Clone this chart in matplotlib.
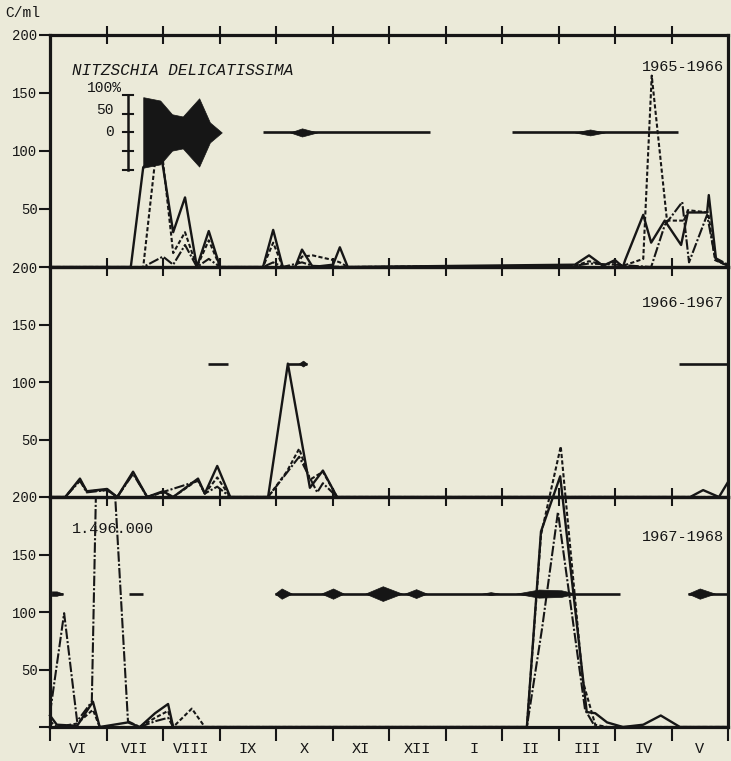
import numpy as np
import matplotlib
matplotlib.use('Agg')
import matplotlib.pyplot as plt

PAPER = '#ebead9'
INK = '#161616'
FONT = 'Liberation Mono'

MONTHS = ['VI', 'VII', 'VIII', 'IX', 'X', 'XI', 'XII', 'I', 'II', 'III', 'IV', 'V']
YEARS = ['1965-1966', '1966-1967', '1967-1968']

# x = months counted from 1 June, y = C/ml
# 1965-1966
top_solid_x = [0, 1.43, 1.65, 1.96, 2.18, 2.39, 2.60, 2.81, 3.01, 3.77, 3.95, 4.12, 4.34, 4.46, 4.65,
               5.01, 5.13, 5.27, 9.29, 9.54, 9.79, 10.00, 10.14, 10.18, 10.50, 10.64, 10.88, 11.17,
               11.29, 11.63, 11.66, 11.79, 12.0]
top_solid_y = [0, 0, 86, 99, 30, 60, 0, 31, 0, 0, 32, 0, 0, 15, 0,
               2, 17, 0, 2, 10, 1, 6, 0, 6, 45, 21, 40, 19,
               47, 47, 62, 6, 1]
top_dash_x = [0, 1.65, 1.93, 2.18, 2.39, 2.60, 2.81, 3.01, 3.77, 3.95, 4.12, 4.34, 4.46, 4.65, 5.01,
              5.13, 5.27, 9.29, 9.54, 9.79, 10.00, 10.14, 10.50, 10.65, 10.92, 11.22, 11.29, 11.65,
              11.77, 12.0]
top_dash_y = [0, 0, 122, 12, 30, 0, 23, 0, 0, 21, 0, 0, 9, 10, 6,
              4, 0, 1, 5, 2, 4, 1, 7, 165, 40, 40, 49, 47,
              6, 1]
top_dot_x = [0, 1.65, 2.00, 2.18, 2.39, 2.60, 2.81, 3.01, 3.77, 3.95, 4.12, 4.46, 4.65, 5.27, 9.29,
             9.54, 10.00, 10.64, 10.88, 11.19, 11.31, 11.63, 11.77, 12.0]
top_dot_y = [0, 0, 9, 2, 19, 0, 7, 0, 0, 4, 0, 4, 1, 0, 1,
             3, 2, 0, 36, 56, 4, 45, 8, 2]

# 1966-1967
mid_solid_x = [0, 0.27, 0.53, 0.65, 1.01, 1.19, 1.47, 1.72, 2.00, 2.18, 2.62, 2.74, 2.96, 3.19, 3.86,
               4.21, 4.60, 4.83, 5.08, 11.33, 11.56, 11.84, 12.0]
mid_solid_y = [0, 0, 16, 5, 7, 0, 22, 0, 5, 0, 16, 3, 27, 0, 0,
               116, 8, 23, 0, 0, 6, 0, 13]
mid_dash_x = [0, 0.27, 0.53, 0.65, 1.01, 1.19, 1.47, 1.72, 2.00, 2.18, 2.62, 2.74, 2.96, 3.19, 3.86,
              4.19, 4.41, 4.60, 4.83, 5.08, 12.0]
mid_dash_y = [0, 0, 15, 5, 6, 0, 21, 0, 4, 0, 15, 3, 17, 0, 0,
              22, 42, 15, 22, 0, 0]
mid_dot_x = [0, 0.27, 0.53, 0.65, 1.01, 1.19, 1.47, 1.72, 2.62, 2.74, 2.96, 3.19, 3.86, 4.19, 4.41,
             4.73, 4.83, 5.08, 12.0]
mid_dot_y = [0, 0, 14, 4, 6, 0, 20, 0, 14, 3, 9, 0, 0, 21, 35,
             4, 12, 0, 0]

# 1967-1968 (dash-dot peak in VI-VII is 1.496.000, cut at the frame)
bot_solid_x = [0, 0.12, 0.48, 0.76, 0.88, 1.38, 1.59, 1.86, 2.09, 2.18, 2.51, 8.44, 8.69, 9.03, 9.50,
               9.65, 9.86, 10.14, 10.50, 10.81, 11.15, 12.0]
bot_solid_y = [10, 2, 1, 22, 0, 4, 0, 12, 20, 0, 0, 0, 170, 218, 13,
               12, 4, 0, 2, 10, 0, 0]
bot_dash_x = [0, 0.12, 0.48, 0.76, 0.88, 1.59, 1.86, 2.09, 2.18, 2.51, 2.74, 8.44, 8.69, 9.04, 9.43,
              9.65, 9.86, 12.0]
bot_dash_y = [5, 0, 3, 15, 0, 0, 8, 14, 0, 16, 0, 0, 167, 244, 40,
              2, 0, 0]
bot_dot_x = [0, 0.25, 0.48, 0.74, 0.90, 1.38, 1.59, 1.86, 2.09, 2.18, 8.44, 8.71, 8.99, 9.47, 9.65,
             12.0]
bot_dot_y = [12, 99, 5, 22, 420, 5, 0, 5, 8, 0, 0, 86, 187, 15, 0,
             0]

# kite diagrams: share of the species (%) around a fixed level
top_kite_lines = [(3.77, 6.73), (8.18, 11.12)]
top_kites = [([1.65, 1.65, 1.95, 2.16, 2.35, 2.64, 2.83, 3.04], [0, 95, 86, 49, 43, 92, 27, 0]),
             ([4.25, 4.46, 4.73], [0, 11, 0]),
             ([9.29, 9.56, 9.82], [0, 8, 0])]
mid_kite_lines = [(2.80, 3.15), (4.21, 4.55), (11.13, 12.0)]
mid_kites = [([4.40, 4.48, 4.55], [0, 8, 0])]
bot_kite_lines = [(0.03, 0.23), (1.40, 1.65), (3.98, 10.09), (11.29, 12.0)]
bot_kites = [([0.03, 0.12, 0.23], [6, 6, 0]),
             ([3.98, 4.10, 4.28], [0, 14, 0]),
             ([4.80, 5.01, 5.20], [0, 14, 0]),
             ([5.58, 5.89, 6.23], [0, 20, 0]),
             ([6.28, 6.48, 6.67], [0, 12, 0]),
             ([7.65, 7.80, 7.95], [0, 4, 0]),
             ([8.25, 8.65, 9.05, 9.30], [0, 11, 9, 0]),
             ([11.29, 11.50, 11.77], [0, 14, 0])]

KITE_LEVEL = 116
KITE_SCALE = 0.32  # C/ml of half width per 1 %

plt.rcParams['font.family'] = [FONT, 'DejaVu Sans Mono']

fig = plt.figure(figsize=(7.31, 7.61), dpi=100, facecolor=PAPER)
W, H = 731, 761
left, right = 50 / W, 728 / W
edges = [35, 267, 497, 727]
axes = []
for i in range(3):
    ax = fig.add_axes([left, 1 - edges[i + 1] / H, right - left, (edges[i + 1] - edges[i]) / H])
    ax.set_facecolor('none')
    axes.append(ax)

panels = [
    (top_solid_x, top_solid_y, top_dash_x, top_dash_y, top_dot_x, top_dot_y, top_kite_lines, top_kites),
    (mid_solid_x, mid_solid_y, mid_dash_x, mid_dash_y, mid_dot_x, mid_dot_y, mid_kite_lines, mid_kites),
    (bot_solid_x, bot_solid_y, bot_dash_x, bot_dash_y, bot_dot_x, bot_dot_y, bot_kite_lines, bot_kites),
]
year_y = [172, 169, 165]

for i, (ax, p) in enumerate(zip(axes, panels)):
    sx, sy, dx, dy, ox, oy, klines, kites = p
    spill = (i == 2)  # the II-III peak runs up into the panel above
    ax.plot(sx, sy, color=INK, lw=1.7, zorder=2, clip_on=not spill)
    ax.plot(dx, dy, color=INK, lw=1.5, dashes=(2.0, 1.1), zorder=2, clip_on=not spill)
    ax.plot(ox, oy, color=INK, lw=1.5, dashes=(5, 1, 1, 1), zorder=2)
    for x0, x1 in klines:
        ax.plot([x0, x1], [KITE_LEVEL, KITE_LEVEL], color=INK, lw=1.9, zorder=3, solid_capstyle='butt')
    for kx, kp in kites:
        half = np.array(kp) * KITE_SCALE
        ax.fill_between(kx, KITE_LEVEL - half, KITE_LEVEL + half, color=INK, lw=0.5, zorder=3)

    ax.set_xlim(0, 12)
    ax.set_ylim(0, 200)
    for s in ax.spines.values():
        s.set_linewidth(2.3)
        s.set_color(INK)
    ax.set_yticks([50, 100, 150, 200])
    ax.set_yticklabels(['50', '100', '150', '200'])
    ax.tick_params(axis='y', direction='out', length=8, width=1.5, colors=INK, labelsize=10, pad=1)
    ax.text(11.93, year_y[i], YEARS[i], ha='right', va='center', fontsize=11, color=INK)

    if i < 2:
        ax.set_xticks(np.arange(1, 12))
        ax.set_xticklabels([])
        ax.tick_params(axis='x', direction='inout', length=13, width=1.5, colors=INK)
    else:
        ax.set_xticks(np.arange(0, 13))
        ax.set_xticklabels([])
        ax.tick_params(axis='x', direction='out', length=10, width=1.5, colors=INK)
        ax.set_xticks(np.arange(12) + 0.5, minor=True)
        ax.set_xticklabels(MONTHS, minor=True, fontsize=11)
        ax.tick_params(axis='x', which='minor', length=0, pad=11, colors=INK)
        ax.text(0.39, 172, '1.496.000', ha='left', va='center', fontsize=11, color=INK, zorder=1)

top = axes[0]
top.tick_params(axis='x', top=True, labeltop=False)
top.text(0.39, 169, 'NITZSCHIA DELICATISSIMA', ha='left', va='center', fontsize=11.5,
         fontstyle='italic', color=INK)

# scale bar for the kite diagram
bx = 1.38
top.plot([bx, bx], [KITE_LEVEL - 32, KITE_LEVEL + 32], color=INK, lw=1.8, zorder=4)
for lvl in [-32, -16, 0, 16, 32]:
    top.plot([bx - 0.09, bx + 0.09], [KITE_LEVEL + lvl] * 2, color=INK, lw=1.5, zorder=4)
top.text(1.27, 154, '100%', ha='right', va='center', fontsize=10.5, color=INK)
top.text(1.13, 135, '50', ha='right', va='center', fontsize=10.5, color=INK)
top.text(1.13, 116, '0', ha='right', va='center', fontsize=10.5, color=INK)

axes[2].set_yticks([0, 50, 100, 150, 200])
axes[2].set_yticklabels(['', '50', '100', '150', '200'])

fig.text(5 / W, 1 - 13 / H, 'C/ml', ha='left', va='center', fontsize=10.5, color=INK)

fig.savefig('out.png', dpi=100, facecolor=PAPER)
